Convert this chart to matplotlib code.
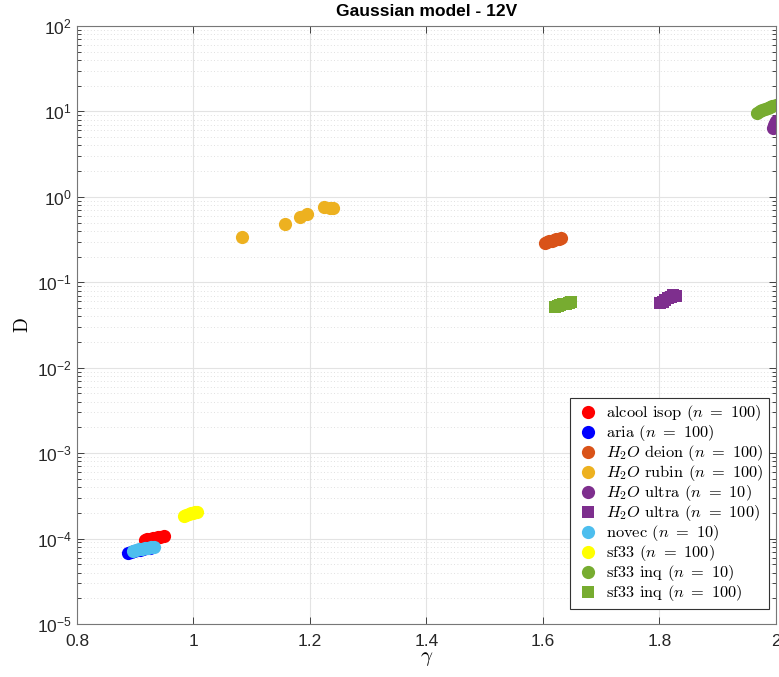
import numpy as np
import matplotlib.pyplot as plt
from matplotlib.ticker import LogLocator, FixedLocator, NullFormatter

plt.rcParams['font.family'] = ['Liberation Sans', 'DejaVu Sans']
plt.rcParams['mathtext.fontset'] = 'cm'

# gamma / D estimates for each liquid
gamma_alcool = [0.917, 0.921, 0.926, 0.930, 0.934, 0.939, 0.943, 0.949]
D_alcool = [9.7e-5, 9.8e-5, 1.0e-4, 1.01e-4, 1.02e-4, 1.04e-4, 1.05e-4, 1.07e-4]

gamma_aria = [0.888, 0.893, 0.898, 0.904, 0.909, 0.914, 0.920, 0.925]
D_aria = [6.86e-5, 7.0e-5, 7.15e-5, 7.3e-5, 7.4e-5, 7.55e-5, 7.7e-5, 7.85e-5]

gamma_deion = [1.603, 1.607, 1.611, 1.615, 1.619, 1.623, 1.627, 1.631]
D_deion = [0.289, 0.295, 0.301, 0.306, 0.312, 0.318, 0.324, 0.331]

gamma_rubin = [1.083, 1.157, 1.183, 1.195, 1.224, 1.235, 1.239]
D_rubin = [0.34, 0.483, 0.583, 0.632, 0.764, 0.75, 0.743]

gamma_ultra10 = [1.995, 1.996, 1.997, 1.998, 2.0]
D_ultra10 = [6.4, 6.6, 6.9, 7.3, 7.7]

gamma_ultra100 = [1.801, 1.806, 1.810, 1.815, 1.820, 1.824, 1.828]
D_ultra100 = [0.0568, 0.0590, 0.0620, 0.0650, 0.0680, 0.0710, 0.0700]

gamma_novec = [0.896, 0.901, 0.906, 0.911, 0.917, 0.922, 0.927, 0.932]
D_novec = [7.24e-5, 7.35e-5, 7.45e-5, 7.55e-5, 7.7e-5, 7.8e-5, 7.9e-5, 8.05e-5]

gamma_sf33 = [0.984, 0.988, 0.992, 0.996, 1.000, 1.003, 1.006]
D_sf33 = [1.86e-4, 1.9e-4, 1.93e-4, 1.97e-4, 2.0e-4, 2.03e-4, 2.07e-4]

gamma_inq10 = [1.967, 1.972, 1.977, 1.982, 1.986, 1.990, 1.994, 2.001]
D_inq10 = [9.7, 10.0, 10.3, 10.6, 10.9, 11.2, 11.5, 11.8]

gamma_inq100 = [1.621, 1.626, 1.630, 1.635, 1.639, 1.644, 1.648]
D_inq100 = [0.052, 0.053, 0.054, 0.055, 0.056, 0.057, 0.058]

series = [
    (gamma_alcool, D_alcool, 'o', '#FF0000', r'alcool isop ($n\ =\ 100$)'),
    (gamma_aria, D_aria, 'o', '#0000FF', r'aria ($n\ =\ 100$)'),
    (gamma_deion, D_deion, 'o', '#D95319', r'$H_2O$ deion ($n\ =\ 100$)'),
    (gamma_rubin, D_rubin, 'o', '#EDB120', r'$H_2O$ rubin ($n\ =\ 100$)'),
    (gamma_ultra10, D_ultra10, 'o', '#7E2F8E', r'$H_2O$ ultra ($n\ =\ 10$)'),
    (gamma_ultra100, D_ultra100, 's', '#7E2F8E', r'$H_2O$ ultra ($n\ =\ 100$)'),
    (gamma_novec, D_novec, 'o', '#4DBEEE', r'novec ($n\ =\ 10$)'),
    (gamma_sf33, D_sf33, 'o', '#FFFF00', r'sf33 ($n\ =\ 100$)'),
    (gamma_inq10, D_inq10, 'o', '#77AC30', r'sf33 inq ($n\ =\ 10$)'),
    (gamma_inq100, D_inq100, 's', '#77AC30', r'sf33 inq ($n\ =\ 100$)'),
]

fig = plt.figure(figsize=(7.79, 6.77), dpi=100)
ax = fig.add_axes([0.0988, 0.0783, 0.8972, 0.8833])

for g, d, m, c, lab in series:
    ms = 9.5 if m == 'o' else 8
    ax.plot(g, d, linestyle='none', marker=m, markersize=ms, color=c,
            markeredgewidth=0, label=lab)

ax.set_yscale('log')
ax.set_xlim(0.8, 2.0)
ax.set_ylim(1e-5, 1e2)

ax.xaxis.set_major_locator(FixedLocator([0.8, 1.0, 1.2, 1.4, 1.6, 1.8, 2.0]))
ax.set_xticklabels(['0.8', '1', '1.2', '1.4', '1.6', '1.8', '2'])
ax.yaxis.set_major_locator(LogLocator(base=10, numticks=20))
ax.yaxis.set_minor_locator(LogLocator(base=10, subs=np.arange(2, 10), numticks=20))
ax.yaxis.set_minor_formatter(NullFormatter())

ax.tick_params(which='both', direction='in', top=True, right=True,
               colors='#262626', labelsize=12.5, width=0.6)
ax.tick_params(which='major', length=5)
ax.tick_params(which='minor', length=3)
ax.tick_params(axis='x', pad=7)
for sp in ax.spines.values():
    sp.set_color('#777777')
    sp.set_linewidth(0.8)

ax.grid(which='major', color='#e3e3e3', linewidth=0.8, linestyle='-')
ax.grid(which='minor', axis='y', color='#d6d6d6', linewidth=0.6, linestyle=(0, (1, 3)))
ax.set_axisbelow(True)

ax.set_title('Gaussian model - 12V', fontsize=12.5, fontweight='bold', pad=7)
ax.set_xlabel(r'$\gamma$', fontsize=15, labelpad=0)
ax.set_ylabel('D', fontsize=14, family='cmr10', labelpad=4)

leg = ax.legend(loc='lower right', bbox_to_anchor=(0.99, 0.025),
                prop={'family': 'cmr10', 'size': 11.8},
                fancybox=False, edgecolor='#333333', framealpha=1,
                borderaxespad=0, handletextpad=0.4, labelspacing=0.0,
                handlelength=1.4, borderpad=0.35)
leg.get_frame().set_linewidth(0.8)

fig.savefig('out.png', dpi=100)
